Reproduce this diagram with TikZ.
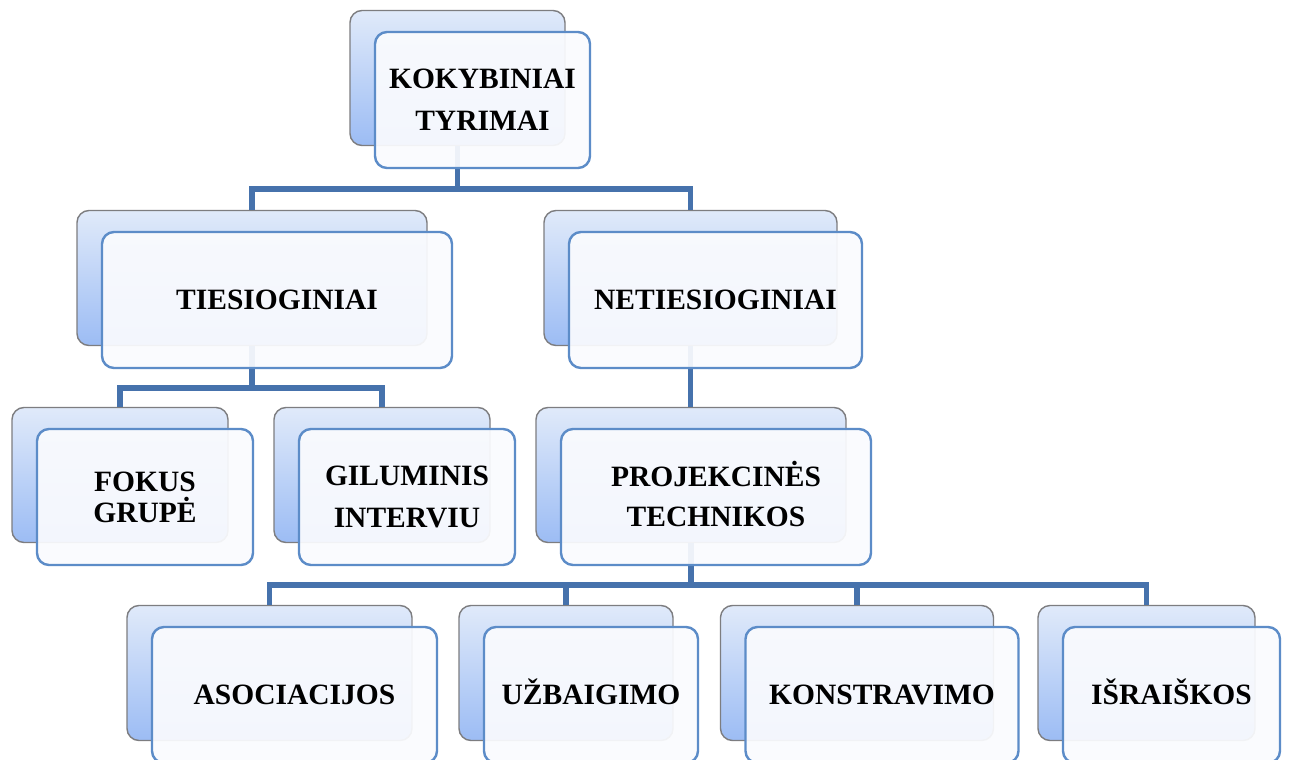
\documentclass[tikz,border=0pt]{standalone}
\usepackage{fontspec}
\setmainfont{Liberation Serif}
\pgfdeclarelayer{bg}\pgfdeclarelayer{mid}\pgfdeclarelayer{paper}
\pgfsetlayers{paper,bg,mid,main}
\definecolor{connc}{RGB}{70,114,172}
\definecolor{frontc}{RGB}{92,140,200}
\definecolor{backtop}{RGB}{224,234,250}
\definecolor{backbot}{RGB}{156,188,244}
\definecolor{backdraw}{RGB}{125,125,128}
\definecolor{frontfill}{RGB}{250,251,254}
\newcommand\cs[1]{\smash{#1}\vphantom{A}}
\tikzset{
 backbox/.style={rectangle, rounded corners=12pt, minimum height=135pt, inner sep=0pt,
   top color=backtop, bottom color=backbot, draw=backdraw, line width=1.4pt},
 frontbox/.style={rectangle, rounded corners=12pt, minimum height=136pt, inner sep=0pt,
   fill=frontfill, fill opacity=0.93, text opacity=1, draw=frontc, draw opacity=1,
   line width=2.4pt, align=center, font=\fontsize{29.5}{42}\selectfont\bfseries},
 conn/.style={draw=connc, line width=5.5pt}
}
\newcommand\tbox[6][]{%
  \begin{pgfonlayer}{bg}\node[backbox, minimum width=#5pt] (#2b) at (#3-25,#4-22) {};\end{pgfonlayer}
  \node[frontbox, minimum width=#5pt, #1] (#2) at (#3,#4) {#6};
}
\begin{document}
\begin{tikzpicture}[x=1pt,y=-1pt]
\clip (0,0) rectangle (1291,760);
\begin{pgfonlayer}{paper}
\fill[white] (0,0) rectangle (1291,760);
\end{pgfonlayer}
\tbox{top}{482.5}{100}{215}{\cs{KOKYBINIAI}\\\cs{TYRIMAI}}
\tbox{ties}{277}{300}{350}{\cs{TIESIOGINIAI}}
\tbox{neties}{715.5}{300}{293}{\cs{NETIESIOGINIAI}}
\tbox[font=\fontsize{29.5}{31}\selectfont\bfseries]{fokus}{145}{497}{216}{\cs{FOKUS}\\\cs{GRUPĖ}}
\tbox{gilum}{407}{497}{216}{\cs{GILUMINIS}\\\cs{INTERVIU}}
\tbox[font=\fontsize{29.5}{40}\selectfont\bfseries]{proj}{716}{497}{310}{\cs{PROJEKCINĖS}\\\cs{TECHNIKOS}}
\tbox{asoc}{294.5}{695}{285}{\cs{ASOCIACIJOS}}
\tbox{uzb}{591}{695}{214}{\cs{UŽBAIGIMO}}
\tbox{konst}{882}{695}{273}{\cs{KONSTRAVIMO}}
\tbox{isr}{1171.5}{695}{217}{\cs{IŠRAIŠKOS}}
\begin{pgfonlayer}{mid}
\draw[conn] (topb.south) -- (topb.south |- 0,189) -| (tiesb.north);
\draw[conn] (topb.south |- 0,189) -| (netiesb.north);
\draw[conn] (tiesb.south) -- (tiesb.south |- 0,388) -| (fokusb.north);
\draw[conn] (tiesb.south |- 0,388) -| (gilumb.north);
\draw[conn] (netiesb.south) -- (netiesb.south |- projb.north);
\draw[conn] (projb.south) -- (projb.south |- 0,585) -| (asocb.north);
\draw[conn] (projb.south |- 0,585) -| (uzbb.north);
\draw[conn] (projb.south |- 0,585) -| (konstb.north);
\draw[conn] (projb.south |- 0,585) -| (isrb.north);
\end{pgfonlayer}
\end{tikzpicture}
\end{document}
